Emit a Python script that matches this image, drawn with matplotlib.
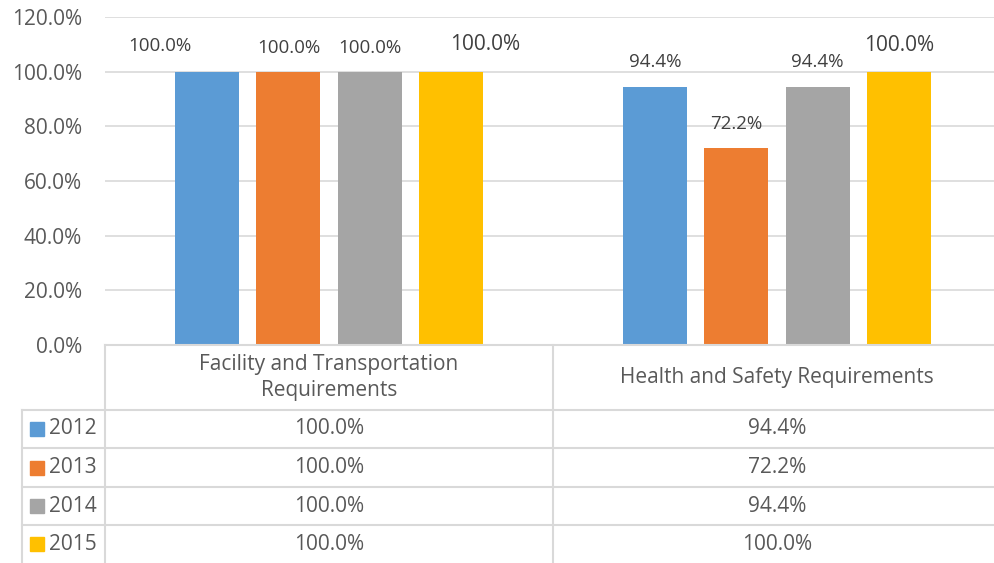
import matplotlib.pyplot as plt
import numpy as np

plt.rcParams['font.family'] = ['Open Sans', 'DejaVu Sans']

categories = ['Facility and Transportation\nRequirements', 'Health and Safety Requirements']
years = ['2012', '2013', '2014', '2015']
values = [
    [100.0, 94.4],   # 2012
    [100.0, 72.2],   # 2013
    [100.0, 94.4],   # 2014
    [100.0, 100.0],  # 2015
]
colors = ['#5B9BD5', '#ED7D31', '#A5A5A5', '#FFC000']

# label nudges (px) to mimic Excel's placement
label_dx = [[-47, 0], [0, 0], [0, 0], [34, 0]]
label_dy = [[26, 25], [24, 24], [24, 25], [27, 26]]
label_fs = [[13.5, 13.5], [13.5, 13.5], [13.5, 13.5], [15, 15]]

W, H = 995, 563
fig = plt.figure(figsize=(W / 100, H / 100), dpi=100)

# plot area in pixel coordinates
x0, x1 = 105, 1001
y_top, y_base = 17, 345
ax = fig.add_axes([x0 / W, (H - y_base) / H, (x1 - x0) / W, (y_base - y_top) / H])

n = len(years)
step = 0.181
bw = 0.143
x = np.arange(len(categories))
for i in range(n):
    pos = x + (i - (n - 1) / 2) * step
    ax.bar(pos, values[i], width=bw, color=colors[i], zorder=3)
    for j, v in enumerate(values[i]):
        ax.annotate(f'{v:.1f}%', xy=(pos[j], v),
                    xytext=(label_dx[i][j] * 0.72, label_dy[i][j] * 0.72),
                    textcoords='offset points', ha='center', va='center',
                    fontsize=label_fs[i][j], color='#404040')

ax.set_xlim(-0.5, 1.5)
ax.set_ylim(0, 120)
ax.set_yticks(np.arange(0, 121, 20))
ax.set_yticklabels([f'{t:.1f}%' for t in np.arange(0, 121, 20)])
ax.tick_params(axis='y', length=0, labelsize=15, labelcolor='#595959', pad=16.5)
ax.set_xticks([])
ax.grid(axis='y', color='#D9D9D9', linewidth=1.2, zorder=0)
for s in ax.spines.values():
    s.set_visible(False)

# data table below the plot
tab = fig.add_axes([0, 0, 1, 1])
tab.set_xlim(0, W)
tab.set_ylim(H, 0)
tab.axis('off')

lc = '#D9D9D9'
lw = 1.5
col_x = [22, 105, 553, 1001]
row_y = [345, 410, 448, 487, 525, 563]

# horizontal lines
tab.plot([105, W], [row_y[0], row_y[0]], color=lc, lw=lw)
for yy in row_y[1:-1]:
    tab.plot([col_x[0], W], [yy, yy], color=lc, lw=lw)
# vertical lines
tab.plot([col_x[0], col_x[0]], [row_y[1], H], color=lc, lw=lw)
tab.plot([col_x[1], col_x[1]], [row_y[0], H], color=lc, lw=lw)
tab.plot([col_x[2], col_x[2]], [row_y[0], H], color=lc, lw=lw)

# header
for j, c in enumerate(categories):
    cx = (col_x[j + 1] + col_x[j + 2]) / 2
    tab.text(cx, (row_y[0] + row_y[1]) / 2, c, ha='center', va='center',
             fontsize=15, color='#595959', linespacing=1.3)

# rows
for i in range(n):
    cy = (row_y[i + 1] + row_y[i + 2]) / 2
    tab.add_patch(plt.Rectangle((30, cy - 7), 14, 14, color=colors[i]))
    tab.text(49, cy, years[i], ha='left', va='center', fontsize=15, color='#595959')
    for j in range(len(categories)):
        cx = (col_x[j + 1] + col_x[j + 2]) / 2
        tab.text(cx, cy, f'{values[i][j]:.1f}%', ha='center', va='center',
                 fontsize=15, color='#595959')

fig.savefig('out.png', dpi=100)
